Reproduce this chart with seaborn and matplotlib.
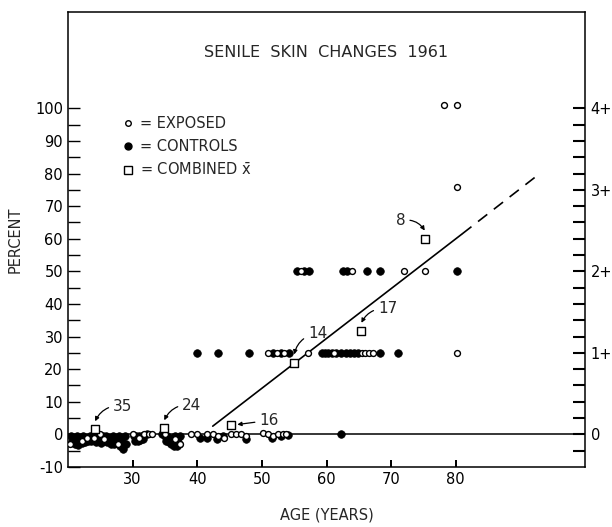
import matplotlib
matplotlib.use("Agg")
import matplotlib.pyplot as plt
from matplotlib.lines import Line2D
from matplotlib.ticker import FixedLocator
import seaborn as sns

# Controls (filled circles) - age in years, percent
ctrl_age = [20.4, 20.9, 21.4, 21.9, 22.4, 22.9, 23.4, 23.9, 24.4, 24.9, 25.4, 25.9, 26.4, 26.9, 27.4, 27.9, 28.4, 28.9,
            20.6, 21.1, 21.6, 22.1, 22.6, 23.1, 23.6, 24.4, 25.1, 25.6, 26.1, 26.6, 27.1, 27.6, 28.1, 28.5, 29.0,
            20.8, 21.3, 21.8, 22.3, 23.3, 24.8, 25.8, 26.3, 26.8, 27.3, 27.8, 28.3,
            30.2, 30.6, 31.0, 31.4, 31.8, 32.2, 30.4, 30.8, 31.2, 31.6,
            34.6, 35.0, 35.4, 35.8, 36.2, 36.6, 37.0, 37.4, 35.2, 35.6, 36.0, 36.4, 36.8, 37.2,
            40.5, 41.5, 43.0, 44.0, 47.5, 51.5, 53.0, 54.0, 62.2,
            40.0, 43.2, 48.0, 51.7, 52.9, 54.2, 59.3, 59.8, 60.3, 60.8, 61.5, 62.2, 63.0, 63.6, 64.2, 64.8, 68.2, 71.0,
            55.5, 56.5, 57.3, 62.5, 63.1, 66.2, 68.2, 80.2]
ctrl_pct = [-0.5, -1, -0.5, -1, -0.5, -1, -0.5, -0.5, -0.5, -1, -0.5, -0.5, -1, -0.5, -1, -0.5, -1, -0.5,
            -2.5, -3, -3.2, -2.8, -2.5, -2, -2.2, -2.5, -2.8, -2, -2.5, -3, -3, -2.8, -3.5, -4.5, -3,
            -1.8, -2, -2, -1.8, -1.5, -1.8, -1.5, -2, -2, -2, -2, -2.5,
            -0.5, -0.5, -0.5, -0.5, -0.3, 0, -2, -2, -1.8, -1.5,
            0, -0.5, -0.5, -1, -1, -0.5, -1, -0.5, -2, -2.5, -3, -3.5, -3.5, -3,
            -1, -1.2, -1.5, -0.5, -1.5, -1, -0.5, -0.3, 0,
            25, 25, 25, 25, 25, 25, 25, 25, 25, 25, 25, 25, 25, 25, 25, 25, 25, 25,
            50, 50, 50, 50, 50, 50, 50, 50]

# Exposed (open circles)
exp_age = [20.3, 22.2, 23.0, 24.0, 25.0, 25.6, 27.7, 30.0, 31.0, 31.7, 32.5, 33.0, 35.0, 36.6, 37.3, 39.0, 40.0,
           41.5, 42.4, 43.2, 44.2, 45.2, 46.0, 46.7, 47.5, 50.1, 50.9, 51.7, 52.5, 53.2, 53.7,
           51.0, 52.3, 53.5, 57.1, 61.2, 65.5, 66.0, 66.6, 67.2, 80.2,
           56.1, 64.0, 72.0, 75.2,
           78.1, 80.2, 80.2]
exp_pct = [-3, -2, -1.2, -1, 0, -1.5, -3, 0, -1, 0, 0, 0, 0, -1.5, -3, 0, 0,
           0, 0, -0.5, -1, 0, 0, 0, -0.5, 0.5, 0, -0.5, 0, 0, 0,
           25, 25, 25, 25, 25, 25, 25, 25, 25, 25,
           50, 50, 50, 50,
           101, 101, 76]

# Combined means (squares) with group sizes
comb_age = [24.2, 34.9, 45.2, 55.0, 65.4, 75.2]
comb_pct = [1.5, 1.8, 3.0, 22.0, 31.7, 60.0]
comb_n = ["35", "24", "16", "14", "17", "8"]

# Fitted trend
fit_age = [42.4, 81.0]
fit_pct = [2.5, 61.5]
ext_age = [81.0, 93.0]
ext_pct = [61.5, 80.0]

x_ticks = [30, 40, 50, 60, 70, 80]
left_ticks = list(range(-10, 101, 10))
right_ticks = [0, 25, 50, 75, 100]
right_labels = ["0", "1+", "2+", "3+", "4+"]
right_minor = list(range(-5, 101, 5))

sns.set_style("ticks")
plt.rcParams['font.family'] = ['DejaVu Sans']
plt.rcParams['axes.unicode_minus'] = False

fig, ax = plt.subplots(figsize=(6.12, 5.27), dpi=100)
fig.subplots_adjust(left=0.111, right=0.956, top=0.977, bottom=0.114)

ax.axhline(0, color="black", lw=1.1, zorder=1)
sns.lineplot(x=fit_age, y=fit_pct, color="black", lw=1.2, ax=ax)
sns.lineplot(x=ext_age, y=ext_pct, color="black", lw=1.2, ax=ax, linestyle=(0, (7, 5)))

sns.scatterplot(x=ctrl_age, y=ctrl_pct, marker="o", s=30, color="black", edgecolor="black", linewidth=0.5, ax=ax, zorder=3)
sns.scatterplot(x=exp_age, y=exp_pct, marker="o", s=18, facecolor="white", edgecolor="black", linewidth=1.0, ax=ax, zorder=4)
sns.scatterplot(x=comb_age, y=comb_pct, marker="s", s=34, facecolor="white", edgecolor="black", linewidth=1.0, ax=ax, zorder=5)

# group-size labels with curved arrows
offsets = [(13, 11), (13, 11), (16, 3), (10, 15), (12, 10), (-14, 7)]
curves = [0.35, 0.35, 0.0, 0.35, 0.35, -0.35]
for xa, ya, n, off, rad in zip(comb_age, comb_pct, comb_n, offsets, curves):
    target_y = ya + 2.5 if off[1] > 5 else ya
    target_x = xa if off[1] > 5 else xa + 1.0
    ax.annotate(n, xy=(target_x, target_y), xytext=off, textcoords="offset points",
                fontsize=11, ha="left" if off[0] > 0 else "right", va="center",
                arrowprops=dict(arrowstyle="-|>", color="black", lw=0.9, mutation_scale=6,
                                shrinkA=1, shrinkB=0, connectionstyle=f"arc3,rad={rad}"))

ax.set_xlim(20, 100)
ax.set_ylim(-10, 129.5)
ax.xaxis.set_major_locator(FixedLocator(x_ticks))
ax.yaxis.set_major_locator(FixedLocator(left_ticks))
ax.yaxis.set_minor_locator(FixedLocator(list(range(-5, 100, 10))))
ax.tick_params(axis="y", which="both", direction="in", length=8.6, width=1, labelsize=10.5, colors="black")
ax.tick_params(axis="x", which="major", direction="in", length=5, width=1.3, labelsize=10.5, colors="black")
for sp in ax.spines.values():
    sp.set_visible(True)
    sp.set_color("black")
    sp.set_linewidth(1.1)

# inward tick marks on the right edge, drawn as short axis-attached lines
ax.hlines(right_minor, 0.977, 1.0, transform=ax.get_yaxis_transform(), color="black", lw=1.5,
          clip_on=False, zorder=6)
ax.vlines(x_ticks, 0.0, 0.016, transform=ax.get_xaxis_transform(), color="black", lw=1.3,
          clip_on=False, zorder=6)

# right-hand grade scale labels
sec = ax.secondary_yaxis("right")
sec.yaxis.set_major_locator(FixedLocator(right_ticks))
sec.set_yticklabels(right_labels)
sec.tick_params(axis="y", which="both", length=0, labelsize=10.5, colors="black", pad=4)
sec.spines["right"].set_visible(False)

ax.text(0.5, 0.912, "SENILE  SKIN  CHANGES  1961", transform=ax.transAxes, ha="center", va="center", fontsize=11.5)
ax.set_xlabel("AGE (YEARS)", fontsize=10.5, va="center")
ax.xaxis.set_label_coords(0.5, -0.105)
ax.set_ylabel("PERCENT", fontsize=10.5, va="center")
ax.yaxis.set_label_coords(-0.1025, 0.5)

handles = [
    Line2D([], [], marker="o", ls="none", markersize=4, markerfacecolor="white", markeredgecolor="black", markeredgewidth=1),
    Line2D([], [], marker="o", ls="none", markersize=5, markerfacecolor="black", markeredgecolor="black"),
    Line2D([], [], marker="s", ls="none", markersize=5.5, markerfacecolor="white", markeredgecolor="black", markeredgewidth=1),
]
labels = ["= EXPOSED", "= CONTROLS", "= COMBINED $\\bar{\\mathrm{x}}$"]
ax.legend(handles, labels, loc="upper left", bbox_to_anchor=(0.105, 0.772), frameon=False,
          fontsize=10.5, handlelength=0.8, handletextpad=0.4, borderpad=0, borderaxespad=0, labelspacing=0.55)

fig.savefig("out.png", dpi=100)
